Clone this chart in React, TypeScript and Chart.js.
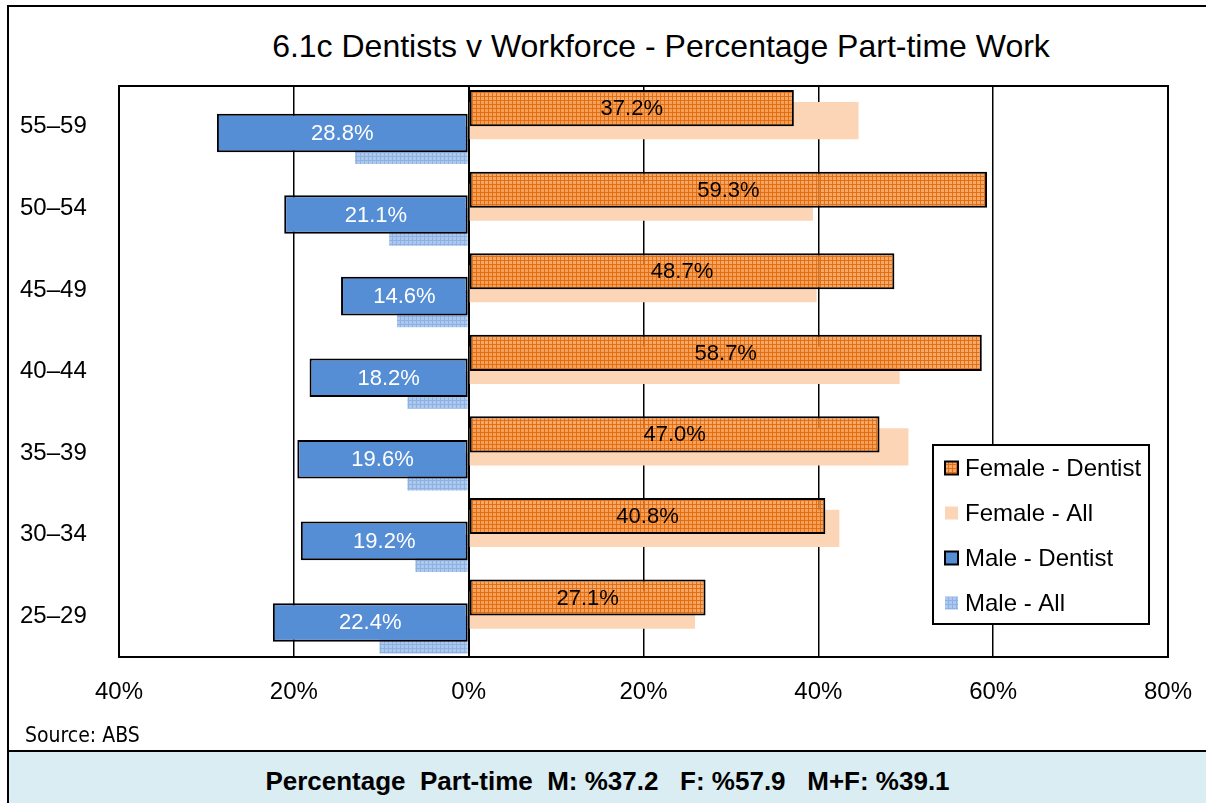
import React, { useEffect, useRef } from 'react';
import { Chart, registerables } from 'chart.js';

Chart.register(...registerables);

// ---- data ----
const categories = ['55–59', '50–54', '45–49', '40–44', '35–39', '30–34', '25–29'];
const femaleDentist = [37.2, 59.3, 48.7, 58.7, 47.0, 40.8, 27.1];
const femaleAll = [44.6, 39.4, 39.8, 49.3, 50.3, 42.4, 25.9];
const maleDentist = [28.8, 21.1, 14.6, 18.2, 19.6, 19.2, 22.4];
const maleAll = [13.0, 9.1, 8.2, 7.0, 7.0, 6.1, 10.2];
const xTickValues = [-40, -20, 0, 20, 40, 60, 80];
const seriesLabels = ['Female - Dentist', 'Female - All', 'Male - Dentist', 'Male - All'];
const titleText = '6.1c Dentists v Workforce - Percentage Part-time Work';
const sourceText = 'Source: ABS';
const summaryText = 'Percentage  Part-time  M: %37.2   F: %57.9   M+F: %39.1';

const FONT = '"Liberation Sans", Arial, sans-serif';

function makeGridPattern(ctx: CanvasRenderingContext2D, bg: string, line: string, size: number) {
  const c = document.createElement('canvas');
  c.width = size;
  c.height = size;
  const g = c.getContext('2d')!;
  g.fillStyle = bg;
  g.fillRect(0, 0, size, size);
  g.fillStyle = line;
  g.fillRect(0, 0, size, 1);
  g.fillRect(0, 0, 1, size);
  return ctx.createPattern(c, 'repeat')!;
}

const plotFrame = {
  id: 'plotFrame',
  afterDatasetsDraw(chart: any) {
    const { ctx, chartArea } = chart;
    ctx.save();
    ctx.strokeStyle = '#000';
    ctx.lineWidth = 2;
    ctx.strokeRect(chartArea.left, chartArea.top, chartArea.right - chartArea.left, chartArea.bottom - chartArea.top);
    ctx.restore();
  },
};

const valueLabels = {
  id: 'valueLabels',
  afterDatasetsDraw(chart: any) {
    const { ctx } = chart;
    ctx.save();
    ctx.font = `22px ${FONT}`;
    ctx.textAlign = 'center';
    ctx.textBaseline = 'middle';
    [
      { index: 0, color: '#000' },
      { index: 2, color: '#fff' },
    ].forEach(({ index, color }) => {
      const meta = chart.getDatasetMeta(index);
      const ds = chart.data.datasets[index];
      ctx.fillStyle = color;
      meta.data.forEach((bar: any, i: number) => {
        const p = bar.getProps(['x', 'y', 'base'], true);
        const v = Math.abs(ds.data[i]);
        ctx.fillText(v.toFixed(1) + '%', (p.x + p.base) / 2, p.y + 1);
      });
    });
    ctx.restore();
  },
};

const legendBox = {
  id: 'legendBox',
  afterDraw(chart: any) {
    const { ctx, chartArea } = chart;
    const w = 216;
    const h = 179;
    const x0 = chartArea.right - 19 - w;
    const y0 = chartArea.bottom - 33 - h;
    ctx.save();
    ctx.fillStyle = '#fff';
    ctx.fillRect(x0, y0, w, h);
    ctx.lineWidth = 2;
    ctx.strokeStyle = '#000';
    ctx.strokeRect(x0, y0, w, h);
    chart.data.datasets.forEach((ds: any, i: number) => {
      const cy = y0 + 23 + i * 45;
      const sx = x0 + 12;
      ctx.fillStyle = ds.backgroundColor;
      ctx.fillRect(sx, cy - 6.5, 13, 13);
      if (ds.borderWidth) {
        ctx.lineWidth = 2;
        ctx.strokeStyle = '#000';
        ctx.strokeRect(sx, cy - 6.5, 13, 13);
      }
      ctx.fillStyle = '#000';
      ctx.font = `24px ${FONT}`;
      ctx.textAlign = 'left';
      ctx.textBaseline = 'middle';
      ctx.fillText(ds.label, x0 + 32, cy + 1);
    });
    ctx.restore();
  },
};

export default function App() {
  const ref = useRef<HTMLCanvasElement>(null);

  useEffect(() => {
    const canvas = ref.current!;
    const ctx = canvas.getContext('2d')!;
    const fdPattern = makeGridPattern(ctx, 'rgba(242,146,66,0.8)', 'rgba(226,106,12,0.9)', 4);
    const maPattern = makeGridPattern(ctx, '#adc8ee', '#8db1e1', 4);

    const chart = new Chart(canvas, {
      type: 'bar',
      data: {
        labels: categories,
        datasets: [
          {
            label: seriesLabels[0],
            data: femaleDentist,
            backgroundColor: fdPattern,
            borderColor: '#000',
            borderWidth: 2,
            borderSkipped: false,
            barPercentage: 2.9,
            order: 0,
          },
          {
            label: seriesLabels[1],
            data: femaleAll,
            backgroundColor: '#fbd5b5',
            borderWidth: 0,
            barPercentage: 3.0,
            order: 1,
          },
          {
            label: seriesLabels[2],
            data: maleDentist.map((v) => -v),
            backgroundColor: '#558ed5',
            borderColor: '#000',
            borderWidth: 2,
            borderSkipped: false,
            barPercentage: 3.1,
            order: 2,
          },
          {
            label: seriesLabels[3],
            data: maleAll.map((v) => -v),
            backgroundColor: maPattern,
            borderWidth: 0,
            barPercentage: 3.0,
            order: 3,
          },
        ] as any,
      },
      options: {
        indexAxis: 'y',
        animation: false,
        responsive: false,
        devicePixelRatio: 1,
        layout: { padding: { left: 20, right: 38, top: 86, bottom: 0 } },
        datasets: { bar: { categoryPercentage: 0.61 } } as any,
        font: { family: FONT } as any,
        scales: {
          x: {
            type: 'linear',
            min: -40,
            max: 80,
            afterBuildTicks: (s: any) => {
              s.ticks = xTickValues.map((v) => ({ value: v }));
            },
            afterFit: (s: any) => {
              s.height = 93;
              s.paddingLeft = 0;
              s.paddingRight = 0;
            },
            ticks: {
              callback: (v: any) => Math.abs(Number(v)) + '%',
              color: '#000',
              font: { size: 24, family: FONT },
              padding: 21,
              maxRotation: 0,
            },
            grid: {
              color: '#000',
              lineWidth: (c: any) => (c.tick && c.tick.value === 0 ? 2 : 1.5),
              drawTicks: false,
            },
            border: { display: false },
          },
          y: {
            type: 'category',
            afterFit: (s: any) => {
              s.width = 99;
              s.paddingTop = 0;
              s.paddingBottom = 0;
            },
            ticks: {
              crossAlign: 'far',
              color: '#000',
              font: { size: 24, family: FONT },
            },
            grid: { display: false, drawTicks: false },
            border: { display: false },
          },
        },
        plugins: {
          legend: { display: false },
          tooltip: { enabled: false },
          title: { display: false },
        },
      } as any,
      plugins: [plotFrame, valueLabels, legendBox],
    });
    return () => chart.destroy();
  }, []);

  return (
    <div
      style={{
        position: 'absolute',
        left: 0,
        top: 0,
        width: 1206,
        height: 803,
        overflow: 'hidden',
        background: '#fff',
        fontFamily: FONT,
      }}
    >
      <div
        style={{
          position: 'absolute',
          left: 7,
          top: 5,
          width: 1300,
          height: 900,
          borderLeft: '2px solid #000',
          borderTop: '2px solid #000',
        }}
      />
      <div
        style={{
          position: 'absolute',
          left: 161,
          width: 1000,
          top: 26,
          lineHeight: '40px',
          fontSize: 32,
          textAlign: 'center',
          color: '#000',
          whiteSpace: 'nowrap',
        }}
      >
        {titleText}
      </div>
      <canvas
        ref={ref}
        width={1206}
        height={750}
        style={{ position: 'absolute', left: 0, top: 0, width: 1206, height: 750, display: 'block' }}
      />
      <div
        style={{
          position: 'absolute',
          left: 25,
          top: 722,
          lineHeight: '26px',
          fontSize: 21,
          fontFamily: '"Liberation Sans Narrow", "Arial Narrow", "DejaVu Sans Condensed", sans-serif',
          color: '#000',
          whiteSpace: 'nowrap',
        }}
      >
        {sourceText}
      </div>
      <div
        style={{
          position: 'absolute',
          left: 9,
          top: 750,
          width: 1300,
          height: 60,
          background: '#daedf3',
          borderTop: '2px solid #000',
        }}
      />
      <div
        style={{
          position: 'absolute',
          left: 9,
          width: 1197,
          top: 765,
          lineHeight: '32px',
          fontSize: 26,
          fontWeight: 'bold',
          textAlign: 'center',
          color: '#000',
          whiteSpace: 'pre',
        }}
      >
        {summaryText}
      </div>
    </div>
  );
}
